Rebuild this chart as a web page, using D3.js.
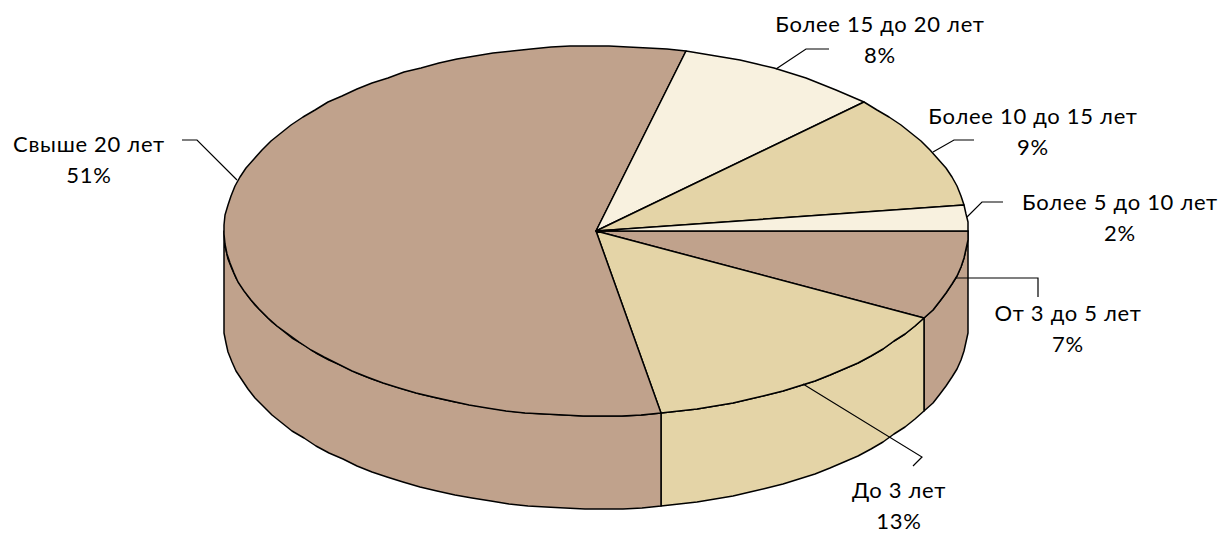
<!DOCTYPE html>
<html><head><meta charset="utf-8">
<script src="https://cdn.jsdelivr.net/npm/d3@7"></script>
<style>html,body{margin:0;background:#fff}svg{display:block}text{font-family:Lato,"Open Sans",sans-serif;font-size:22px;letter-spacing:.7px;fill:#000}</style>
</head><body><svg id="c" width="1220" height="534"></svg>
<script>
const categories=["От 3 до 5 лет","До 3 лет","Свыше 20 лет","Более 15 до 20 лет","Более 10 до 15 лет","Более 5 до 10 лет"];
const values=[7,13,51,8,9,2];
const percentLabels=["7%","13%","51%","8%","9%","2%"];
const sliceColors=["#C0A28C","#E4D4A7","#C0A28C","#F8F1DF","#E4D4A7","#F8F1DF"];
const labelAnchors=[[1068,321],[899,498],[89,152],[880,32],[1033,124],[1120,210]];
const leaders=[
 [[955,278],[1038,278],[1038,297]],
 [[803,384],[922,457],[913,466]],
 [[237,180],[197,140],[182,140]],
 [[776,69],[806,49],[829,49]],
 [[933,152],[954,140],[974,140]],
 [[967,217],[982,202],[1003,202]]
];
const svg=d3.select("#c");
const x=d3.scaleLinear().domain([-1,1]).range([224,968]);
const y=d3.scaleLinear().domain([-1,1]).range([46,416]);
const depth=93, stepRad=Math.PI/60;
const line=d3.line().x(d=>d[0]).y(d=>d[1]);
const pie=d3.pie().sort(null).startAngle(Math.PI/2).endAngle(Math.PI*2.5);
const arcs=pie(values).map(a=>({...a,t0:a.startAngle-Math.PI/2,t1:a.endAngle-Math.PI/2}));
function rimPts(t0,t1,dy=0){
  const n=Math.max(2,Math.ceil((t1-t0)/stepRad)),p=[];
  for(let i=0;i<=n;i++){const t=t0+(t1-t0)*i/n;p.push([Math.round(x(Math.cos(t))),Math.round(y(Math.sin(t)))+dy]);}
  return p;
}
const g=svg.append("g").attr("stroke","#000").attr("stroke-width",1.5).attr("stroke-linejoin","round");
// side walls (visible lower half of the rim)
arcs.filter(a=>a.t0<Math.PI).forEach(a=>{
  const t0=a.t0,t1=Math.min(a.t1,Math.PI);
  const pts=[...rimPts(t0,t1,0),...rimPts(t0,t1,depth).reverse()];
  g.append("path").attr("d",line(pts)+"Z").attr("fill",sliceColors[a.index]);
});
// top faces
arcs.forEach(a=>{
  const pts=[[x(0),y(0)],...rimPts(a.t0,a.t1,0)];
  g.append("path").attr("d",line(pts)+"Z").attr("fill",sliceColors[a.index]);
});
// leaders
svg.append("g").selectAll("path").data(leaders).join("path")
  .attr("d",d=>line(d)).attr("fill","none").attr("stroke","#000").attr("stroke-width",1.2);
// labels
const t=svg.append("g").selectAll("text").data(categories).join("text")
  .attr("text-anchor","middle").attr("x",(d,i)=>labelAnchors[i][0]).attr("y",(d,i)=>labelAnchors[i][1]);
t.append("tspan").attr("x",(d,i)=>labelAnchors[i][0]).text(d=>d);
t.append("tspan").attr("x",(d,i)=>labelAnchors[i][0]).attr("dy",31).text((d,i)=>percentLabels[i]);
</script></body></html>
